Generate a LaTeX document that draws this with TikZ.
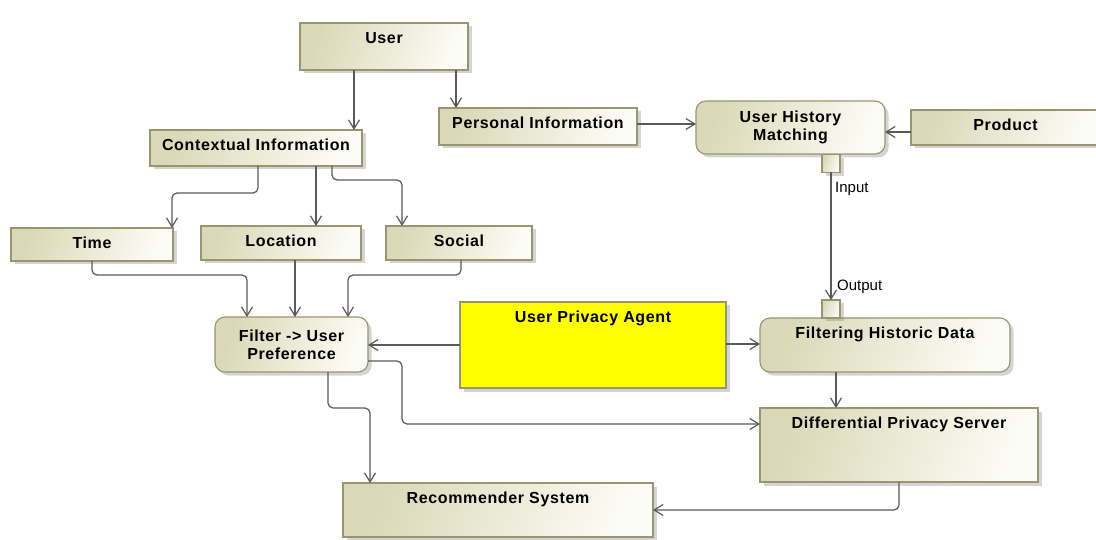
\documentclass[tikz,border=0pt]{standalone}
\usepackage{fontspec}
\setmainfont{Liberation Sans}
\newfontfamily\boxfont{Liberation Sans}[LetterSpace=4]
\usetikzlibrary{arrows.meta,calc,shadows}

\definecolor{boxdark}{RGB}{218,216,182}
\definecolor{boxlight}{RGB}{252,252,246}
\definecolor{boxline}{RGB}{152,150,110}
\definecolor{wire}{RGB}{90,90,90}
\definecolor{agent}{RGB}{255,255,0}

\begin{document}
\begin{tikzpicture}[x=1pt,y=-1pt,
  conn/.style={draw=wire, line width=1.2pt, rounded corners=5pt,
    -{Straight Barb[length=9pt,width=11pt]}},
  frame/.style={draw=boxline, line width=1.1pt,
    drop shadow={shadow xshift=3.5pt, shadow yshift=-3.5pt, opacity=0.3, fill=black!55},
    inner sep=0pt, outer sep=0pt,
    font=\boxfont\bfseries\fontsize{16}{18}\selectfont},
  shaded/.style={frame, left color=boxdark, right color=boxlight, shading angle=70},
  box/.style={shaded, text height=20.8pt},
  rbox/.style={shaded, rounded corners=10pt, align=center},
  agentbox/.style={frame, fill=agent, text height=20.8pt},
  pin/.style={shaded, minimum width=18pt, minimum height=18pt, drop shadow={opacity=0}},
  portlbl/.style={inner sep=0pt, anchor=west, font=\fontsize{15}{18}\selectfont}
]
\useasboundingbox (0,0) rectangle (1096,540);
\fill[white] (0,0) rectangle (1096,540);
\clip (0,0) rectangle (1096,540);

% top row
\node[box, minimum width=168pt, text depth=26.2pt] (user) at (384,46.5) {User};
\node[box, minimum width=212pt, text depth=15.2pt] (ctx) at (256,148) {Contextual Information};
\node[box, minimum width=198pt, text depth=16.2pt] (pinfo) at (538,126.5) {Personal Information};
\node[rbox, minimum width=189pt, minimum height=53pt] (uhm) at (790.5,127.5) {User History\\Matching};
\node[box, minimum width=189pt, text depth=14.2pt] (product) at (1005.5,127.5) {Product};

% context details
\node[box, minimum width=162pt, text depth=12.2pt] (time) at (92,244.5) {Time};
\node[box, minimum width=160pt, text depth=13.2pt] (loc) at (281,243) {Location};
\node[box, minimum width=146pt, text depth=13.2pt] (social) at (459,243) {Social};

% middle row
\node[rbox, minimum width=153pt, minimum height=55pt] (filter) at (291.5,344.5) {Filter -> User\\Preference};
\node[agentbox, minimum width=266pt, text depth=65.2pt] (upa) at (593,345) {User Privacy Agent};
\node[box, rounded corners=10pt, minimum width=250pt, text depth=33.2pt] (fhd) at (885,345) {Filtering Historic Data};

% bottom row
\node[box, minimum width=278pt, text depth=53.2pt] (dps) at (899,445) {Differential Privacy Server};
\node[box, minimum width=310pt, text depth=33.2pt] (rec) at (498,510) {Recommender System};

% ports
\node[pin] (pinA) at (831,163.5) {};
\node[pin] (pinB) at (831,309) {};
\node[portlbl] (inlbl) at ($(pinA.south)+(4,16)$) {Input};
\node[portlbl] (outlbl) at ($(pinB.north)+(6,-13)$) {Output};

% connectors
\draw[conn] ($(user.south)+(-30,0)$) coordinate (u1) -- (u1 |- ctx.north);
\draw[conn] ($(user.south)+(72,0)$) coordinate (u2) -- (u2 |- pinfo.north);
\draw[conn] ($(ctx.south)+(2,0)$) -- ++(0,27) -| ($(time.north east)+(-1,0)$);
\draw[conn] ($(ctx.south)+(60,0)$) coordinate (c4) -- (c4 |- loc.north);
\draw[conn] ($(ctx.south)+(76,0)$) -- ++(0,14) -| ($(social.north)+(-57,0)$);
\draw[conn] (time.south) -- ++(0,14) -| ($(filter.north)+(-44.5,0)$);
\draw[conn] ($(loc.south)+(14,0)$) coordinate (l1) -- (l1 |- filter.north);
\draw[conn] ($(social.south)+(2,0)$) -- ++(0,15) -| ($(filter.north)+(56.5,0)$);
\draw[conn] ($(pinfo.east)+(0,-2.5)$) coordinate (p1) -- (p1 -| uhm.west);
\draw[conn] ($(product.west)+(0,4.5)$) coordinate (p2) -- (p2 -| uhm.east);
\draw[conn] (pinA.south) -- (pinA.south |- pinB.north);
\draw[conn] (upa.west) -- (upa.west -| filter.east);
\draw[conn] ($(upa.east)+(0,-1)$) coordinate (a1) -- (a1 -| fhd.west);
\draw[conn] ($(filter.south)+(36.5,0)$) -- ++(0,36) -| ($(rec.north)+(-128,0)$);
\draw[conn] ($(filter.east)+(0,16.5)$) -| ($(dps.west)+(-358,-21)$) -- ($(dps.west)+(0,-21)$);
\draw[conn] ($(fhd.south)+(-49,0)$) coordinate (f1) -- (f1 |- dps.north);
\draw[conn] (dps.south) |- (rec.east);
\end{tikzpicture}
\end{document}
